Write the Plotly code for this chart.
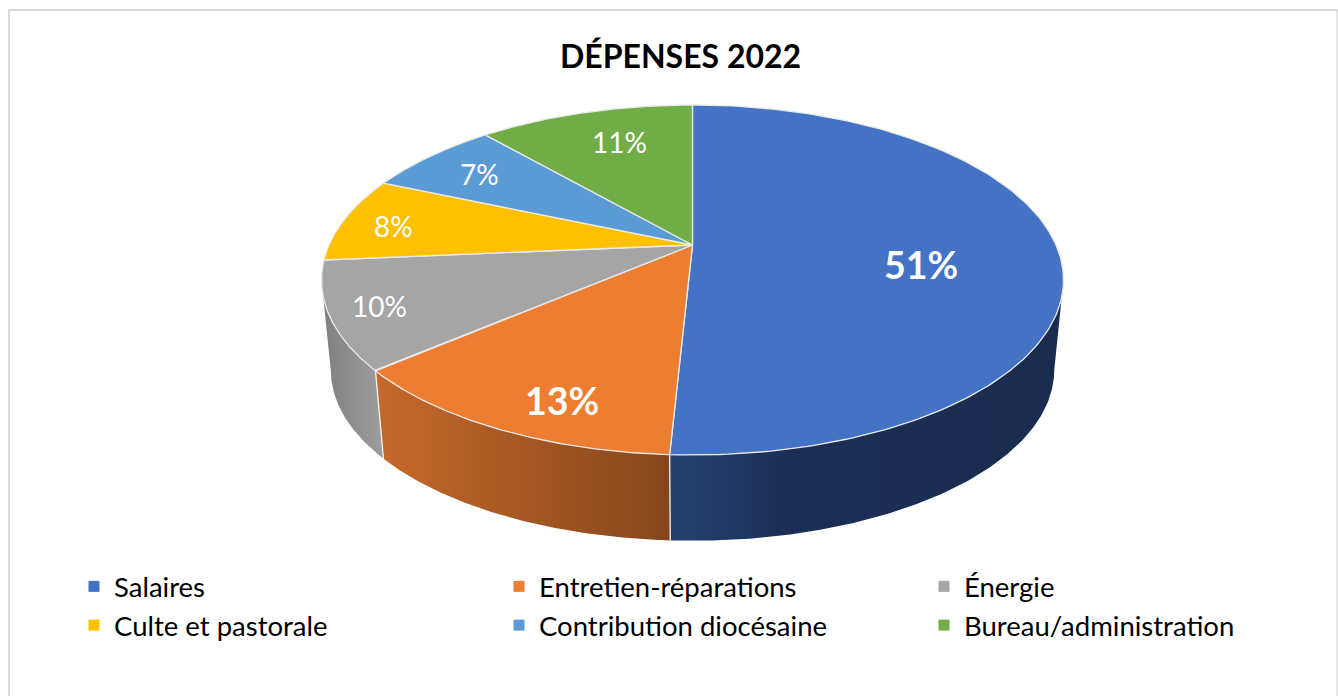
import math
import numpy as np
import plotly.graph_objects as go

# ---- data -------------------------------------------------------------
categories = ["Salaires", "Entretien-réparations", "Énergie",
              "Culte et pastorale", "Contribution diocésaine", "Bureau/administration"]
shares = [50.8, 12.9, 9.9, 7.9, 7.1, 11.4]
slice_colors = ["#4472C4", "#ED7D31", "#A5A5A5", "#FFC000", "#5B9BD5", "#70AD47"]
title_text = "DÉPENSES 2022"

# ---- 3-D pie projection (axes run in screen pixels) ---------------------
W, H = 1338, 696
FONT = "Lato"
CX, APEX_Y = 692.5, 245.0
A, B, K = 363.5, 168.0, 0.2      # top disc
SHRINK = 0.975                   # base disc
BASE_Y = 336.0


def project(theta, r=1.0, top=True):
    X, Y = r * np.sin(theta), r * np.cos(theta)
    den = 1 + K * Y
    s = 1.0 if top else SHRINK
    y0 = APEX_Y if top else BASE_Y
    return CX + s * A * X / den, y0 - s * B * Y / den


edges = 2 * math.pi * np.cumsum([0] + shares) / sum(shares)
sil_r = math.acos(-K)
sil_l = 2 * math.pi - sil_r

side_gradients = {
    0: [[0, "#25416F"], [0.3, "#1B2F55"], [1, "#1A2C4E"]],
    1: [[0, "#C6692B"], [1, "#85461B"]],
    2: [[0, "#7F7F7F"], [1, "#9E9E9E"]],
}

fig = go.Figure()

# side walls
for i in range(len(shares)):
    a0, a1 = max(edges[i], sil_r), min(edges[i + 1], sil_l)
    if a1 <= a0:
        continue
    th = np.linspace(a0, a1, 120)
    xt, yt = project(th)
    xb, yb = project(th[::-1], top=False)
    fig.add_trace(go.Scatter(
        x=np.r_[xt, xb], y=np.r_[yt, yb], mode="lines", line=dict(width=0),
        fill="toself",
        fillgradient=dict(type="horizontal", colorscale=side_gradients[i]),
        hoverinfo="skip", showlegend=False))

# seams of the side walls
for e in edges[1:]:
    if sil_r < e < sil_l:
        xt, yt = project(np.array([e]))
        xb, yb = project(np.array([e]), top=False)
        fig.add_trace(go.Scatter(x=np.r_[xt, xb], y=np.r_[yt, yb], mode="lines",
                                 line=dict(color="#F2F2F2", width=1.3),
                                 hoverinfo="skip", showlegend=False))

# top wedges
for i, cat in enumerate(categories):
    th = np.linspace(edges[i], edges[i + 1], 200)
    xt, yt = project(th)
    fig.add_trace(go.Scatter(
        x=np.r_[CX, xt, CX], y=np.r_[APEX_Y, yt, APEX_Y], mode="lines",
        line=dict(color="#E9E9E9", width=1.3), fill="toself",
        fillcolor=slice_colors[i], name=cat,
        hoverinfo="name", showlegend=False))

# legend entries: three columns, two rows
legend_ids = ["legend", "legend2", "legend3"]
for i, (cat, col) in enumerate(zip(categories, slice_colors)):
    fig.add_trace(go.Scatter(x=[None], y=[None], mode="markers", name=cat,
                             legend=legend_ids[i % 3],
                             marker=dict(symbol="square", size=11, color=col)))

# percentage labels
label_anchor = [(921, 264), (562, 400), (379, 306), (393, 226), (479, 174), (619, 142)]
bold_labels = {0, 1}
annotations = []
for i, (ax, ay) in enumerate(label_anchor):
    txt = f"{round(shares[i])}%"
    big = i in bold_labels
    annotations.append(dict(
        x=ax, y=ay, xref="x", yref="y", showarrow=False,
        text=f"<b>{txt}</b>" if big else txt,
        font=dict(family=FONT, size=37.5 if big else 28, color="white")))
annotations.append(dict(
    x=680.5, y=55, xref="x", yref="y", showarrow=False,
    text=f"<b>{title_text}</b>", font=dict(family=FONT, size=32, color="black")))


def column_legend(left):
    return dict(orientation="v", x=left / W, y=1 - 562 / H, xanchor="left", yanchor="top",
                traceorder="normal", bgcolor="rgba(0,0,0,0)",
                font=dict(family=FONT, size=27.5, color="black"),
                itemclick=False, itemdoubleclick=False)


fig.update_layout(
    width=W, height=H, autosize=False,
    margin=dict(l=0, r=0, t=0, b=0),
    paper_bgcolor="white", plot_bgcolor="white",
    xaxis=dict(range=[0, W], visible=False, fixedrange=True),
    yaxis=dict(range=[H, 0], visible=False, fixedrange=True),
    annotations=annotations,
    shapes=[dict(type="rect", xref="x", yref="y", x0=9, y0=10, x1=1337.5, y1=720,
                 line=dict(color="#D9D9D9", width=2), layer="below")],
    legend=column_legend(74),
    legend2=column_legend(499),
    legend3=column_legend(924),
)

fig.write_html("out.html", config={"displayModeBar": False},
               post_script="document.body.style.margin='0';")
